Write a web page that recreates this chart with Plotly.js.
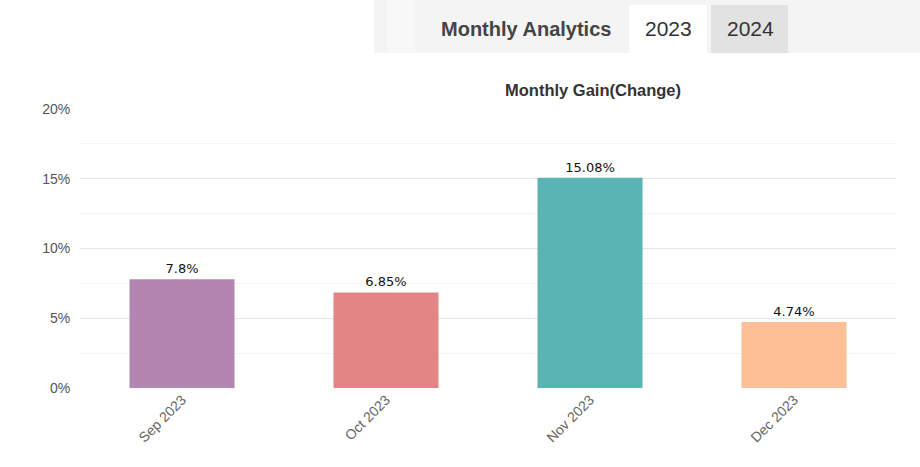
<!DOCTYPE html>
<html>
<head>
<meta charset="utf-8">
<script src="https://cdn.plot.ly/plotly-3.0.1.min.js"></script>
<style>
  html, body { margin: 0; padding: 0; background: #fff; }
  #plot1 { width: 920px; height: 467px; }
</style>
</head>
<body>
<div id="plot1"></div>
<script>
var months = ['Sep 2023', 'Oct 2023', 'Nov 2023', 'Dec 2023'];
var gains = [7.8, 6.85, 15.08, 4.74];
var gainLabels = ['7.8%', '6.85%', '15.08%', '4.74%'];
var barColors = ['#b386b2', '#e38585', '#5bb4b4', '#fcbf96'];
var yTicks = [0, 5, 10, 15, 20];
var yTickLabels = ['0%', '5%', '10%', '15%', '20%'];

// plot box in pixels, used to place the header pieces in paper coords
var L = 80, R = 896, T = 109, B = 388;
function px(x) { return (x - L) / (R - L); }
function py(y) { return (B - y) / (B - T); }

function box(x0, y0, x1, y1, color) {
  return {
    type: 'rect', xref: 'paper', yref: 'paper', layer: 'above',
    x0: px(x0), x1: px(x1), y0: py(y1), y1: py(y0),
    fillcolor: color, line: {width: 0}
  };
}

function label(x, y, text, size, color) {
  return {
    xref: 'paper', yref: 'paper', x: px(x), y: py(y),
    xanchor: 'center', yanchor: 'middle', showarrow: false,
    text: text, font: {size: size, color: color, family: 'Liberation Sans, Arial'}
  };
}

var trace1 = {
  x: months,
  y: gains,
  text: gainLabels,
  type: 'bar',
  textposition: 'outside',
  cliponaxis: false,
  textfont: {family: 'DejaVu Sans', size: 13, color: '#111'},
  marker: {color: barColors},
  hoverinfo: 'none'
};

var layout = {
  width: 920,
  height: 467,
  margin: {l: L, r: 920 - R, t: T, b: 467 - B},
  paper_bgcolor: '#fff',
  plot_bgcolor: '#fff',
  showlegend: false,
  bargap: 0.485,
  font: {family: 'Liberation Sans, Arial', color: '#555'},
  xaxis: {
    type: 'category',
    tickangle: -45,
    tickfont: {size: 14, color: '#666'},
    showgrid: false,
    zeroline: false,
    showline: false,
    ticks: '',
    fixedrange: true
  },
  yaxis: {
    range: [0, 20],
    tickvals: yTicks,
    ticktext: yTickLabels,
    tickfont: {size: 14, color: '#555'},
    gridcolor: '#e6e6e6',
    gridwidth: 1,
    zeroline: false,
    showline: false,
    ticklen: 6,
    tickcolor: '#fff',
    ticks: 'outside',
    minor: {dtick: 2.5, showgrid: true, gridcolor: '#f4f4f4', gridwidth: 1},
    fixedrange: true
  },
  shapes: [
    box(374, 0, 920, 53, '#f4f4f4'),
    box(387, 0, 415, 53, '#f8f8f8'),
    box(629, 5, 707, 53, '#ffffff'),
    box(711, 5, 788, 53, '#e2e2e2'),
    box(493, 100, 693, 116, '#ffffff')
  ],
  annotations: [
    label(526, 29, '<b>Monthly Analytics</b>', 20, '#444'),
    label(668, 29, '2023', 21, '#333'),
    label(750, 29, '2024', 21, '#333'),
    label(593, 90, '<b>Monthly Gain(Change)</b>', 16.5, '#333')
  ]
};

Plotly.newPlot('plot1', [trace1], layout, {displayModeBar: false, staticPlot: true});
</script>
</body>
</html>
